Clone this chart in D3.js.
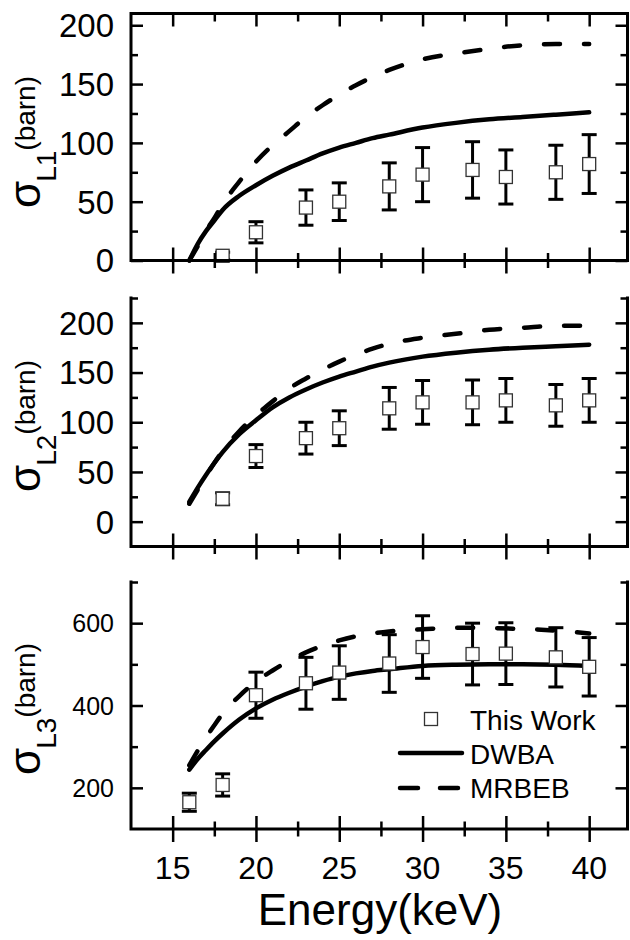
<!DOCTYPE html>
<html>
<head>
<meta charset="utf-8" />
<title>sigma L subshells</title>
<script src="https://cdn.jsdelivr.net/npm/d3@7"></script>
<style>
  body { margin: 0; background: #fff; }
  svg text { font-family: "Liberation Sans", Arial, sans-serif; fill: #000; }
</style>
</head>
<body>
<svg id="chart" width="630" height="940" style="background:#fff"></svg>
<script>
// measured points, energy in keV, cross sections in barn
var expE = [18, 20, 23, 25, 28, 30, 33, 35, 38, 40];
var expE3 = [16, 18, 20, 23, 25, 28, 30, 33, 35, 38, 40];

var l1Val = [4, 24, 45, 50, 63, 73, 77, 71, 75, 82];
var l1Err = [3, 9, 15, 16, 20, 23, 24, 23, 23, 25];
var l2Val = [23, 66, 84, 94, 114, 120, 120, 122, 117, 122];
var l2Err = [6, 11.5, 16, 17.5, 21, 22, 22.5, 22, 21, 22];
var l3Val = [165, 207, 425, 454, 480, 502, 542, 525, 526, 517, 494];
var l3Err = [22, 27, 56, 63, 65, 70, 76, 75, 75, 72, 71];

// theory curves
var theoryE = [16, 16.5, 17, 17.5, 18, 19, 20, 21, 22, 23, 24, 25, 26, 27, 28, 30, 32, 34, 36, 38, 40];
var dwbaL1  = [0, 14, 25, 34, 43, 55, 64, 72, 79, 85, 91, 96, 100, 104, 107, 113, 117, 120, 122, 124, 126];
var mrbebL1 = [0, 12, 25, 36, 48, 67, 84, 98, 110, 122, 132, 141, 149, 156, 162, 171, 176, 180, 183, 184, 184];
var dwbaL2  = [20, 34, 47, 59, 70, 88, 102, 115, 125, 133, 140, 146, 151, 156, 160, 166, 170, 173, 175, 176.5, 178];
var mrbebL2 = [18, 32, 46, 59, 71, 91, 107, 121, 134, 144, 153, 161, 168, 174, 179, 185, 189, 193, 195, 197, 197];
var dwbaL3  = [244, 270, 292, 313, 332, 366, 393, 414, 431, 446, 459, 470, 478, 484, 488, 496, 499, 500, 500, 499, 496];
var mrbebL3 = [255, 290, 322, 352, 380, 423, 458, 485, 509, 529, 545, 558, 568, 575, 580, 585, 589, 588, 586, 582, 575];

// tick values
var xTicks = [15, 20, 25, 30, 35, 40];
var xMinor = [17.5, 22.5, 27.5, 32.5, 37.5];
var l1Ticks = [0, 50, 100, 150, 200], l1Minor = [25, 75, 125, 175];
var l2Ticks = [0, 50, 100, 150, 200], l2Minor = [25, 75, 125, 175, 225];
var l3Ticks = [200, 400, 600], l3Minor = [300, 500, 700];

var legendNames = ['This Work', 'DWBA', 'MRBEB'];

var svg = d3.select('#chart');
var x = d3.scaleLinear().domain([12.5, 42.3]).range([131, 627.5]);
var xl = 131, xr = 627.5;

var panels = [
  { e: expE, val: l1Val, err: l1Err, dw: dwbaL1, mr: mrbebL1, dom: [0, 210], top: 13.5, bot: 260.5,
    ticks: l1Ticks, minor: l1Minor, sub: 'L1', fs: 33, labY: 208, topAxis: true },
  { e: expE, val: l2Val, err: l2Err, dw: dwbaL2, mr: mrbebL2, dom: [-25, 225], top: 298, bot: 546.5,
    ticks: l2Ticks, minor: l2Minor, sub: 'L2', fs: 33, labY: 492 },
  { e: expE3, val: l3Val, err: l3Err, dw: dwbaL3, mr: mrbebL3, dom: [100, 700], top: 582, bot: 829,
    ticks: l3Ticks, minor: l3Minor, sub: 'L3', fs: 25, labY: 775, legend: true }
];

panels.forEach(function (p) {
  var y = d3.scaleLinear().domain(p.dom).range([p.bot, p.top]);
  var g = svg.append('g');
  var line = d3.line().curve(d3.curveMonotoneX)
    .x(function (d, i) { return x(theoryE[i]); })
    .y(function (d) { return y(d); });

  g.append('path').datum(p.dw).attr('d', line)
    .attr('fill', 'none').attr('stroke', '#000').attr('stroke-width', 4.5)
    .attr('stroke-linecap', 'round').attr('stroke-linejoin', 'round');
  g.append('path').datum(p.mr).attr('d', line)
    .attr('fill', 'none').attr('stroke', '#000').attr('stroke-width', 4.5)
    .attr('stroke-dasharray', '16,24').attr('stroke-linecap', 'round');

  // error bars
  var bars = g.selectAll('g.bar').data(p.val).enter().append('g').attr('class', 'bar')
    .attr('stroke', '#000').attr('stroke-width', 3);
  bars.append('line')
    .attr('x1', function (d, i) { return x(p.e[i]); })
    .attr('x2', function (d, i) { return x(p.e[i]); })
    .attr('y1', function (d, i) { return y(d - p.err[i]); })
    .attr('y2', function (d, i) { return y(d + p.err[i]); });
  [-1, 1].forEach(function (s) {
    bars.append('line')
      .attr('x1', function (d, i) { return x(p.e[i]) - 7.5; })
      .attr('x2', function (d, i) { return x(p.e[i]) + 7.5; })
      .attr('y1', function (d, i) { return y(d + s * p.err[i]); })
      .attr('y2', function (d, i) { return y(d + s * p.err[i]); });
  });
  g.selectAll('rect.pt').data(p.val).enter().append('rect').attr('class', 'pt')
    .attr('x', function (d, i) { return x(p.e[i]) - 6.5; })
    .attr('y', function (d) { return y(d) - 6.5; })
    .attr('width', 13).attr('height', 13)
    .attr('fill', '#fff').attr('stroke', '#333').attr('stroke-width', 1.3);

  // frame
  var fr = 'M' + xl + ',' + p.top + 'V' + p.bot + 'H' + xr + 'V' + p.top;
  if (p.topAxis) fr += 'H' + xl;
  g.append('path').attr('d', fr).attr('fill', 'none').attr('stroke', '#000')
    .attr('stroke-width', 3).attr('stroke-linecap', 'square');

  function ticksOn(sel, axis, vals, len, cross) {
    var a = sel.append('g').call(axis.tickValues(vals).tickSize(len).tickSizeOuter(0).tickFormat(''));
    a.select('.domain').remove();
    a.selectAll('line').attr('stroke', '#000').attr('stroke-width', 2.5);
    if (cross) a.selectAll('line').attr('y1', -len);
    return a;
  }
  // bottom axis, crossing ticks
  var gb = g.append('g').attr('transform', 'translate(0,' + p.bot + ')');
  ticksOn(gb, d3.axisBottom(x), xTicks, 13, true);
  ticksOn(gb, d3.axisBottom(x), xMinor, 7.5, true);
  if (p.topAxis) {
    var gt = g.append('g').attr('transform', 'translate(0,' + p.top + ')');
    ticksOn(gt, d3.axisTop(x), xTicks, -13, false);
    ticksOn(gt, d3.axisTop(x), xMinor, -8, false);
  }
  // left/right ticks pointing inward
  var gl = g.append('g').attr('transform', 'translate(' + xl + ',0)');
  ticksOn(gl, d3.axisLeft(y), p.ticks, -12, false);
  ticksOn(gl, d3.axisLeft(y), p.minor, -7, false);
  var gr = g.append('g').attr('transform', 'translate(' + xr + ',0)');
  ticksOn(gr, d3.axisRight(y), p.ticks, -12, false);
  ticksOn(gr, d3.axisRight(y), p.minor, -7, false);

  // y tick labels
  g.selectAll('text.yl').data(p.ticks).enter().append('text').attr('class', 'yl')
    .attr('x', 114).attr('y', function (d) { return y(d); })
    .attr('dy', '0.36em').attr('text-anchor', 'end')
    .style('font-size', p.fs + 'px').text(function (d) { return d; });

  // y title: sigma with subscript and superscript
  var t = g.append('text').attr('x', 0).attr('y', 0)
    .attr('transform', 'translate(40,' + p.labY + ') rotate(-90)');
  t.append('tspan').style('font-size', '44px').text('σ');
  t.append('tspan').attr('dx', -1).attr('dy', 16).style('font-size', '28px').text(p.sub);
  t.append('tspan').attr('dy', -21).style('font-size', '28px').text('(barn)');

  if (p.legend) {
    var lg = g.append('g');
    lg.append('rect').attr('x', 424.5).attr('y', 712.5).attr('width', 13).attr('height', 13)
      .attr('fill', '#fff').attr('stroke', '#333').attr('stroke-width', 1.3);
    lg.append('line').attr('x1', 400).attr('x2', 462).attr('y1', 753).attr('y2', 753)
      .attr('stroke', '#000').attr('stroke-width', 4.5).attr('stroke-linecap', 'round');
    lg.append('line').attr('x1', 400).attr('x2', 462).attr('y1', 788).attr('y2', 788)
      .attr('stroke', '#000').attr('stroke-width', 4.5).attr('stroke-linecap', 'round')
      .attr('stroke-dasharray', '18,22');
    lg.selectAll('text').data(legendNames).enter().append('text')
      .attr('x', 470).attr('y', function (d, i) { return 730 + i * 34; })
      .style('font-size', '28px').text(function (d) { return d; });
  }
});

// x tick labels and title
svg.selectAll('text.xl').data(xTicks).enter().append('text').attr('class', 'xl')
  .attr('x', function (d) { return x(d); }).attr('y', 879)
  .attr('text-anchor', 'middle').style('font-size', '32px').text(function (d) { return d; });
svg.append('text').attr('x', 380).attr('y', 925).attr('text-anchor', 'middle')
  .style('font-size', '44px').text('Energy(keV)');
</script>
</body>
</html>
